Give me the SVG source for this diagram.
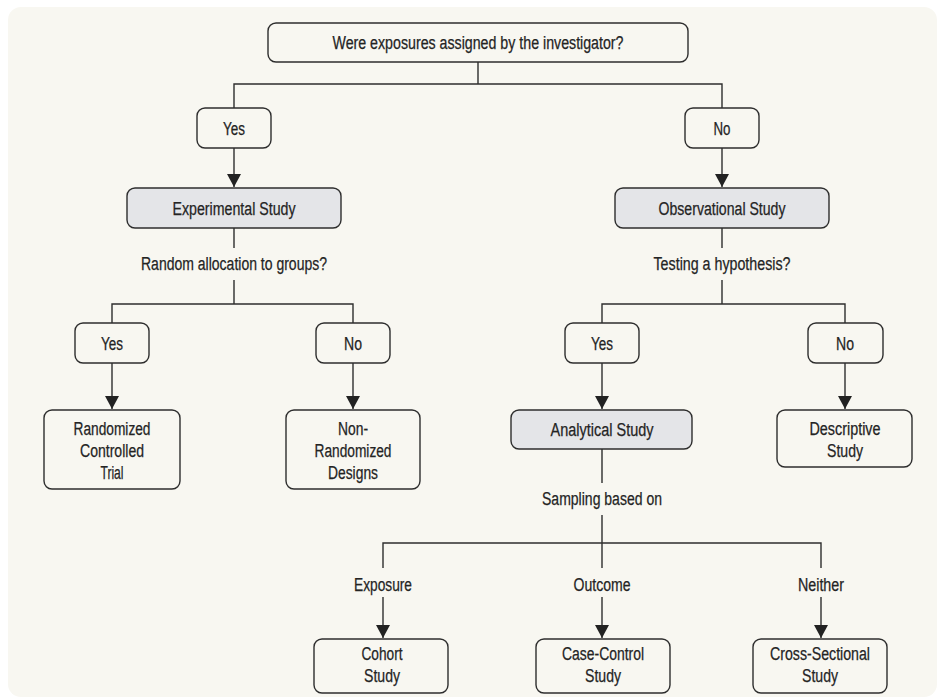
<svg xmlns="http://www.w3.org/2000/svg" width="938" height="698" viewBox="0 0 938 698">
<style>
.bg{fill:#F8F7F1}
.box{fill:#F8F7F1;stroke:#2E2E2E;stroke-width:1.4}
.gray{fill:#E4E5E8;stroke:#2E2E2E;stroke-width:1.4}
.ln{fill:none;stroke:#2E2E2E;stroke-width:1.4}
text{font-family:"Liberation Sans Narrow","Liberation Sans",Arial,sans-serif;font-size:18px;fill:#242424;stroke:#242424;stroke-width:0.25;text-anchor:middle}
</style>
<defs>
<marker id="ah" markerUnits="userSpaceOnUse" markerWidth="13" markerHeight="14" refX="13" refY="7" orient="auto">
<path d="M0,0 L13,7 L0,14 z" fill="#222"/>
</marker>
</defs>
<rect class="bg" x="8" y="7" width="929" height="690" rx="13"/>

<g id="connectors">
<path class="ln" d="M478,62 V84 M234,108 V84 H722 V108"/>
<path class="ln" d="M234,148 V187" marker-end="url(#ah)"/>
<path class="ln" d="M722,148 V187" marker-end="url(#ah)"/>
<path class="ln" d="M234,228 V248 M234,280 V304 M112,323 V304 H353 V323"/>
<path class="ln" d="M112,363 V409" marker-end="url(#ah)"/>
<path class="ln" d="M353,363 V409" marker-end="url(#ah)"/>
<path class="ln" d="M722,228 V248 M722,280 V304 M602,323 V304 H845 V323"/>
<path class="ln" d="M602,363 V409" marker-end="url(#ah)"/>
<path class="ln" d="M845,363 V409" marker-end="url(#ah)"/>
<path class="ln" d="M602,449 V483 M602,515 V568 M383,568 V543 H821 V568"/>
<path class="ln" d="M383,597 V638" marker-end="url(#ah)"/>
<path class="ln" d="M602,597 V638" marker-end="url(#ah)"/>
<path class="ln" d="M821,597 V638" marker-end="url(#ah)"/>
<text x="234" y="270" textLength="186" lengthAdjust="spacingAndGlyphs">Random allocation to groups?</text>
<text x="722" y="270" textLength="137" lengthAdjust="spacingAndGlyphs">Testing a hypothesis?</text>
<text x="602" y="505" textLength="120" lengthAdjust="spacingAndGlyphs">Sampling based on</text>
<text x="383" y="591" textLength="58" lengthAdjust="spacingAndGlyphs">Exposure</text>
<text x="602" y="591" textLength="57" lengthAdjust="spacingAndGlyphs">Outcome</text>
<text x="821" y="591" textLength="46" lengthAdjust="spacingAndGlyphs">Neither</text>
</g>

<g id="q-assigned">
<rect class="box" x="268" y="23" width="420" height="39" rx="8"/>
<text x="478" y="49" textLength="291" lengthAdjust="spacingAndGlyphs">Were exposures assigned by the investigator?</text>
</g>
<g id="yes-1">
<rect class="box" x="197" y="108" width="74" height="40" rx="8"/>
<text x="234" y="135" textLength="22" lengthAdjust="spacingAndGlyphs">Yes</text>
</g>
<g id="no-1">
<rect class="box" x="685" y="108" width="74" height="40" rx="8"/>
<text x="722" y="135" textLength="17" lengthAdjust="spacingAndGlyphs">No</text>
</g>
<g id="experimental">
<rect class="gray" x="127" y="188" width="214" height="40" rx="8"/>
<text x="234" y="215" textLength="123" lengthAdjust="spacingAndGlyphs">Experimental Study</text>
</g>
<g id="observational">
<rect class="gray" x="615" y="188" width="214" height="40" rx="8"/>
<text x="722" y="215" textLength="127" lengthAdjust="spacingAndGlyphs">Observational Study</text>
</g>
<g id="yes-2">
<rect class="box" x="75" y="323" width="74" height="40" rx="8"/>
<text x="112" y="350" textLength="22" lengthAdjust="spacingAndGlyphs">Yes</text>
</g>
<g id="no-2">
<rect class="box" x="316" y="323" width="74" height="40" rx="8"/>
<text x="353" y="350" textLength="18" lengthAdjust="spacingAndGlyphs">No</text>
</g>
<g id="rct">
<rect class="box" x="44" y="410" width="136" height="79" rx="8"/>
<text x="112" y="435" textLength="77" lengthAdjust="spacingAndGlyphs">Randomized</text>
<text x="112" y="457" textLength="64" lengthAdjust="spacingAndGlyphs">Controlled</text>
<text x="112" y="479" textLength="23" lengthAdjust="spacingAndGlyphs">Trial</text>
</g>
<g id="non-randomized">
<rect class="box" x="286" y="410" width="134" height="79" rx="8"/>
<text x="353" y="435" textLength="30" lengthAdjust="spacingAndGlyphs">Non-</text>
<text x="353" y="457" textLength="77" lengthAdjust="spacingAndGlyphs">Randomized</text>
<text x="353" y="479" textLength="50" lengthAdjust="spacingAndGlyphs">Designs</text>
</g>
<g id="yes-3">
<rect class="box" x="565" y="323" width="74" height="40" rx="8"/>
<text x="602" y="350" textLength="22" lengthAdjust="spacingAndGlyphs">Yes</text>
</g>
<g id="no-3">
<rect class="box" x="808" y="323" width="75" height="40" rx="8"/>
<text x="845" y="350" textLength="18" lengthAdjust="spacingAndGlyphs">No</text>
</g>
<g id="analytical">
<rect class="gray" x="511" y="410" width="181" height="39" rx="8"/>
<text x="602" y="436" textLength="103" lengthAdjust="spacingAndGlyphs">Analytical Study</text>
</g>
<g id="descriptive">
<rect class="box" x="777" y="410" width="135" height="57" rx="8"/>
<text x="845" y="435" textLength="71" lengthAdjust="spacingAndGlyphs">Descriptive</text>
<text x="845" y="457" textLength="36" lengthAdjust="spacingAndGlyphs">Study</text>
</g>
<g id="cohort">
<rect class="box" x="314" y="639" width="134" height="54" rx="8"/>
<text x="382" y="660" textLength="41" lengthAdjust="spacingAndGlyphs">Cohort</text>
<text x="382" y="682" textLength="36" lengthAdjust="spacingAndGlyphs">Study</text>
</g>
<g id="case-control">
<rect class="box" x="536" y="639" width="134" height="54" rx="8"/>
<text x="603" y="660" textLength="82" lengthAdjust="spacingAndGlyphs">Case-Control</text>
<text x="603" y="682" textLength="36" lengthAdjust="spacingAndGlyphs">Study</text>
</g>
<g id="cross-sectional">
<rect class="box" x="753" y="639" width="134" height="54" rx="8"/>
<text x="820" y="660" textLength="100" lengthAdjust="spacingAndGlyphs">Cross-Sectional</text>
<text x="820" y="682" textLength="36" lengthAdjust="spacingAndGlyphs">Study</text>
</g>
</svg>
